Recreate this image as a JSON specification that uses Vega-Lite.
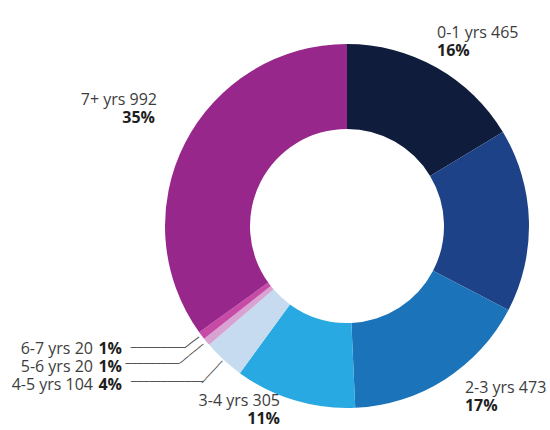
{
  "$schema": "https://vega.github.io/schema/vega-lite/v6.json",
  "width": 406,
  "height": 408,
  "autosize": "none",
  "padding": {"left": 144, "top": 22, "right": 0, "bottom": 0},
  "background": "white",
  "config": {"view": {"stroke": null}},
  "data": {
    "values": [
      {"idx": 1, "cat": "0-1 yrs", "count": 465, "label": "0-1 yrs 465", "pct": "16%"},
      {"idx": 2, "cat": "1-2 yrs", "count": 462, "label": "1-2 yrs 462", "pct": "16%"},
      {"idx": 3, "cat": "2-3 yrs", "count": 473, "label": "2-3 yrs 473", "pct": "17%"},
      {"idx": 4, "cat": "3-4 yrs", "count": 305, "label": "3-4 yrs 305", "pct": "11%"},
      {"idx": 5, "cat": "4-5 yrs", "count": 104, "label": "4-5 yrs 104", "pct": "4%"},
      {"idx": 6, "cat": "5-6 yrs", "count": 20, "label": "5-6 yrs 20", "pct": "1%"},
      {"idx": 7, "cat": "6-7 yrs", "count": 20, "label": "6-7 yrs 20", "pct": "1%"},
      {"idx": 8, "cat": "7+ yrs", "count": 992, "label": "7+ yrs 992", "pct": "35%"}
    ]
  },
  "encoding": {
    "theta": {"field": "count", "type": "quantitative", "stack": true},
    "order": {"field": "idx", "type": "quantitative"}
  },
  "layer": [
    {
      "mark": {"type": "arc", "outerRadius": 182, "innerRadius": 97},
      "encoding": {
        "color": {
          "field": "cat", "type": "nominal", "legend": null,
          "scale": {
            "domain": ["0-1 yrs", "1-2 yrs", "2-3 yrs", "3-4 yrs", "4-5 yrs", "5-6 yrs", "6-7 yrs", "7+ yrs"],
            "range": ["#0f1c3b", "#1e4288", "#1b73b9", "#29a9e1", "#c6daf0", "#d8a2d2", "#c64aa6", "#98278c"]
          }
        }
      }
    },
    {
      "mark": {"type": "text", "radius": 215, "align": "left", "baseline": "middle", "dx": -15.7, "dy": -5.65, "font": "Open Sans", "fontSize": 16, "color": "#3d3d3d"},
      "encoding": {"text": {"condition": {"test": "datum.cat === '0-1 yrs'", "field": "label"}, "value": ""}}
    },
    {
      "mark": {"type": "text", "radius": 215, "align": "left", "baseline": "middle", "dx": -15.7, "dy": 12.35, "font": "Open Sans", "fontSize": 16, "fontWeight": "bold", "color": "#1e1e1e"},
      "encoding": {"text": {"condition": {"test": "datum.cat === '0-1 yrs'", "field": "pct"}, "value": ""}}
    },
    {
      "mark": {"type": "text", "radius": 215, "align": "left", "baseline": "middle", "dx": 2.2, "dy": -19.3, "font": "Open Sans", "fontSize": 16, "color": "#3d3d3d"},
      "encoding": {"text": {"condition": {"test": "datum.cat === '2-3 yrs'", "field": "label"}, "value": ""}}
    },
    {
      "mark": {"type": "text", "radius": 215, "align": "left", "baseline": "middle", "dx": 2.2, "dy": -1.3, "font": "Open Sans", "fontSize": 16, "fontWeight": "bold", "color": "#1e1e1e"},
      "encoding": {"text": {"condition": {"test": "datum.cat === '2-3 yrs'", "field": "pct"}, "value": ""}}
    },
    {
      "mark": {"type": "text", "radius": 195, "align": "right", "baseline": "middle", "dx": -10.9, "dy": -11.9, "font": "Open Sans", "fontSize": 16, "color": "#3d3d3d"},
      "encoding": {"text": {"condition": {"test": "datum.cat === '3-4 yrs'", "field": "label"}, "value": ""}}
    },
    {
      "mark": {"type": "text", "radius": 195, "align": "right", "baseline": "middle", "dx": -10.9, "dy": 6.1, "font": "Open Sans", "fontSize": 16, "fontWeight": "bold", "color": "#1e1e1e"},
      "encoding": {"text": {"condition": {"test": "datum.cat === '3-4 yrs'", "field": "pct"}, "value": ""}}
    },
    {
      "mark": {"type": "text", "radius": 215, "align": "right", "baseline": "middle", "dx": 1.3, "dy": -28, "font": "Open Sans", "fontSize": 16, "color": "#3d3d3d"},
      "encoding": {"text": {"condition": {"test": "datum.cat === '7+ yrs'", "field": "label"}, "value": ""}}
    },
    {
      "mark": {"type": "text", "radius": 215, "align": "right", "baseline": "middle", "dx": -0.7, "dy": -10, "font": "Open Sans", "fontSize": 16, "fontWeight": "bold", "color": "#1e1e1e"},
      "encoding": {"text": {"condition": {"test": "datum.cat === '7+ yrs'", "field": "pct"}, "value": ""}}
    },
    {
      "mark": {"type": "text", "radius": 202.7, "align": "right", "baseline": "middle", "dx": -92.1, "dy": 0.9, "font": "Open Sans", "fontSize": 16, "color": "#3d3d3d"},
      "encoding": {"text": {"condition": {"test": "datum.cat === '6-7 yrs'", "field": "label"}, "value": ""}}
    },
    {
      "mark": {"type": "text", "radius": 202.7, "align": "right", "baseline": "middle", "dx": -63.1, "dy": 0.9, "font": "Open Sans", "fontSize": 16, "fontWeight": "bold", "color": "#1e1e1e"},
      "encoding": {"text": {"condition": {"test": "datum.cat === '6-7 yrs'", "field": "pct"}, "value": ""}}
    },
    {
      "mark": {"type": "text", "radius": 217, "align": "right", "baseline": "middle", "dx": -86.6, "dy": 2.9, "font": "Open Sans", "fontSize": 16, "color": "#3d3d3d"},
      "encoding": {"text": {"condition": {"test": "datum.cat === '5-6 yrs'", "field": "label"}, "value": ""}}
    },
    {
      "mark": {"type": "text", "radius": 217, "align": "right", "baseline": "middle", "dx": -57.6, "dy": 2.9, "font": "Open Sans", "fontSize": 16, "fontWeight": "bold", "color": "#1e1e1e"},
      "encoding": {"text": {"condition": {"test": "datum.cat === '5-6 yrs'", "field": "pct"}, "value": ""}}
    },
    {
      "mark": {"type": "text", "radius": 212.1, "align": "right", "baseline": "middle", "dx": -110.3, "dy": 2.9, "font": "Open Sans", "fontSize": 16, "color": "#3d3d3d"},
      "encoding": {"text": {"condition": {"test": "datum.cat === '4-5 yrs'", "field": "label"}, "value": ""}}
    },
    {
      "mark": {"type": "text", "radius": 212.1, "align": "right", "baseline": "middle", "dx": -81.3, "dy": 2.9, "font": "Open Sans", "fontSize": 16, "fontWeight": "bold", "color": "#1e1e1e"},
      "encoding": {"text": {"condition": {"test": "datum.cat === '4-5 yrs'", "field": "pct"}, "value": ""}}
    },
    {
      "mark": {"type": "text", "radius": 193.9, "angle": -37, "align": "center", "baseline": "middle", "font": "DejaVu Sans Mono", "fontSize": 10, "color": "#444444"},
      "encoding": {"text": {"condition": {"test": "datum.cat === '6-7 yrs'", "value": "───"}, "value": ""}}
    },
    {
      "mark": {"type": "text", "radius": 201, "angle": -39.5, "align": "center", "baseline": "middle", "font": "DejaVu Sans Mono", "fontSize": 10, "color": "#444444"},
      "encoding": {"text": {"condition": {"test": "datum.cat === '5-6 yrs'", "value": "─────"}, "value": ""}}
    },
    {
      "mark": {"type": "text", "radius": 198.6, "angle": -47.3, "align": "center", "baseline": "middle", "font": "DejaVu Sans Mono", "fontSize": 10, "color": "#444444"},
      "encoding": {"text": {"condition": {"test": "datum.cat === '4-5 yrs'", "value": "─────"}, "value": ""}}
    },
    {
      "mark": {"type": "text", "radius": 202.7, "align": "right", "baseline": "middle", "font": "DejaVu Sans Mono", "fontSize": 10, "color": "#444444"},
      "encoding": {"text": {"condition": {"test": "datum.cat === '6-7 yrs'", "value": "─────────"}, "value": ""}}
    },
    {
      "mark": {"type": "text", "radius": 217, "align": "right", "baseline": "middle", "font": "DejaVu Sans Mono", "fontSize": 10, "color": "#444444"},
      "encoding": {"text": {"condition": {"test": "datum.cat === '5-6 yrs'", "value": "─────────"}, "value": ""}}
    },
    {
      "mark": {"type": "text", "radius": 212.1, "align": "right", "baseline": "middle", "font": "DejaVu Sans Mono", "fontSize": 10, "color": "#444444"},
      "encoding": {"text": {"condition": {"test": "datum.cat === '4-5 yrs'", "value": "────────────"}, "value": ""}}
    }
  ]
}
